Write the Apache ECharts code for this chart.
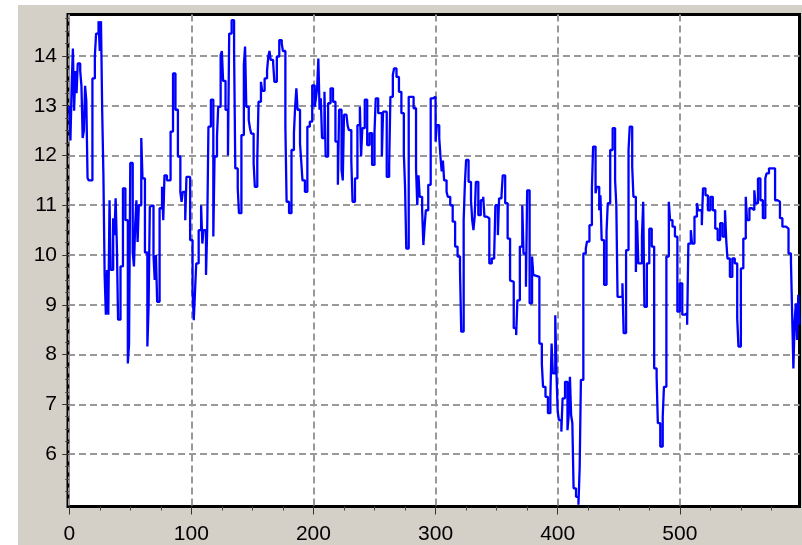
<!DOCTYPE html>
<html>
<head>
<meta charset="utf-8">
<style>
    html, body { margin: 0; padding: 0; background: #fff; }
    #main { position: absolute; left: 18px; top: 5px; width: 784px; height: 540px; }
</style>
</head>
<body>
<div id="main"></div>
<script src="https://cdn.jsdelivr.net/npm/echarts@6.0.0/dist/echarts.min.js"></script>
<script>
// sample positions (x) and values (y), drawn as a step line
var xs = [0, 1, 2, 3, 4, 5, 6, 7, 9, 10, 11, 12, 13, 14, 15, 16, 19, 21, 22, 24, 25, 26, 27, 28, 29, 30, 31, 32, 33, 34, 36, 37, 38, 39, 40, 42, 44, 46, 48, 49, 50, 52, 53, 54, 55, 56, 57, 59, 60, 62, 64, 65, 66, 67, 69, 70, 71, 72, 74, 76, 77, 78, 80, 83, 85, 87, 89, 91, 92, 93, 95, 96, 99,
    101, 102, 103, 104, 106, 108, 109, 110, 112, 113, 114, 116, 118, 119, 121, 122, 124, 125, 126, 128, 130, 131, 133, 135, 136, 138, 139, 141, 143, 144, 145, 147, 148, 149, 151, 152, 154, 155, 157, 158, 160, 162, 163, 164, 165, 167, 168, 170, 172, 174, 175, 177, 178, 180, 182, 184, 185, 186, 187, 189, 190, 191, 193, 195, 197, 199,
    201, 202, 203, 204, 205, 206, 207, 209, 210, 212, 214, 216, 218, 220, 221, 223, 224, 225, 227, 228, 229, 231, 232, 234, 236, 238, 239, 240, 242, 244, 246, 248, 250, 251, 253, 256, 257, 260, 262, 263, 265, 266, 268, 270, 272, 274, 275, 276, 278, 282, 284, 285, 286, 287, 289, 290, 291, 292, 294, 296, 298,
    300, 301, 303, 304, 305, 306, 307, 309, 310, 312, 314, 316, 318, 320, 321, 323, 324, 325, 327, 329, 330, 331, 332, 333, 335, 337, 339, 340, 342, 344, 346, 348, 349, 351, 352, 354, 355, 357, 359, 361, 362, 364, 366, 367, 369, 371, 372, 374, 375, 377, 379, 380, 381, 385, 387, 388, 390, 392, 394, 395, 396, 398, 399,
    400, 401, 403, 404, 406, 408, 409, 410, 411, 412, 413, 415, 417, 418, 419, 421, 423, 424, 426, 428, 429, 431, 432, 434, 435, 436, 438, 440, 441, 443, 445, 447, 448, 449, 453, 454, 456, 458, 459, 461, 462, 464, 465, 466, 469, 470, 471, 473, 475, 477, 479, 481, 482, 484, 486, 487, 489, 491, 492, 494, 496, 498,
    500, 502, 504, 506, 507, 509, 510, 512, 514, 515, 518, 519, 521, 523, 525, 527, 529, 531, 533, 535, 537, 538, 539, 541, 543, 545, 547, 548, 550, 552, 554, 555, 557, 559, 561, 562, 564, 566, 568, 570, 571, 573, 578, 580, 582, 584, 587, 589, 591, 592, 593, 594, 595, 596, 597, 598];
var ys = [13.0, 12.3, 13.4, 14.15, 12.9, 13.7, 13.25, 13.85, 13.7, 13.4, 12.35, 12.5, 13.4, 13.1, 11.55, 11.5, 13.55, 14.0, 14.45, 14.7, 14.1, 14.7, 12.9, 11.6, 9.6, 8.8, 9.7, 8.8, 11.1, 9.7, 10.74, 10.4, 11.14, 10.2, 8.7, 9.77, 11.34, 10.7, 7.82, 8.22, 11.85, 10.05, 9.77, 10.6, 11.1, 10.26, 11.0, 12.35, 11.54, 10.05, 8.16, 8.97, 10.97, 11.0, 10.0, 9.5, 10.0, 9.06, 10.94, 11.37, 10.7, 11.6, 11.5, 12.48, 13.65, 12.92, 11.98, 11.27, 11.07, 11.27, 10.7, 11.57, 10.3,
    9.26, 8.69, 9.26, 9.83, 10.5, 11.0, 10.23, 10.5, 9.6, 10.53, 12.58, 13.12, 10.37, 11.98, 12.38, 12.98, 14.02, 14.1, 13.5, 12.92, 12.0, 14.45, 14.72, 14.1, 11.74, 11.34, 10.84, 12.41, 13.82, 14.19, 12.98, 12.71, 12.55, 12.44, 11.85, 11.37, 11.91, 13.08, 13.48, 13.3, 13.55, 13.7, 13.99, 14.1, 13.92, 13.85, 13.48, 13.99, 14.32, 14.25, 14.1, 12.58, 11.07, 10.84, 12.11, 12.45, 12.98, 13.35, 12.92, 12.24, 11.88, 11.5, 11.27, 12.58, 12.68, 13.41,
    12.98, 13.15, 13.35, 13.95, 12.92, 13.15, 12.35, 13.28, 11.98, 13.05, 13.35, 13.08, 12.28, 11.41, 12.92, 11.71, 11.5, 12.82, 12.78, 12.6, 12.51, 11.88, 11.07, 11.54, 12.61, 12.98, 11.98, 12.55, 13.12, 12.21, 12.45, 11.81, 12.48, 13.15, 12.85, 11.98, 12.88, 11.57, 11.81, 13.18, 13.62, 13.75, 13.58, 13.28, 12.85, 12.04, 11.37, 10.13, 13.18, 12.95, 11.74, 11.0, 11.6, 11.17, 10.9, 10.2, 10.57, 10.9, 11.41, 13.15, 13.18,
    12.28, 12.61, 12.35, 11.98, 11.68, 11.9, 11.5, 11.27, 11.17, 11.0, 10.67, 10.17, 9.97, 9.7, 8.46, 10.7, 11.44, 11.91, 11.47, 11.1, 10.7, 10.5, 10.77, 11.47, 10.8, 11.1, 11.17, 10.77, 10.74, 9.83, 9.93, 10.03, 11.0, 10.4, 11.14, 11.2, 11.6, 11.04, 10.33, 9.49, 9.46, 8.53, 8.39, 9.09, 10.17, 11.0, 10.03, 9.36, 11.3, 9.03, 9.97, 9.6, 9.56, 8.22, 7.82, 7.35, 7.15, 6.82, 7.15, 8.22, 7.62, 8.79, 7.62,
    6.85, 6.68, 6.45, 7.12, 7.45, 6.48, 6.78, 7.55, 6.78, 6.62, 5.31, 5.14, 4.98, 5.74, 7.49, 10.03, 10.13, 10.27, 10.6, 11.34, 12.18, 11.24, 11.37, 10.9, 11.2, 10.3, 9.4, 10.47, 11.04, 12.11, 12.55, 11.5, 11.0, 9.16, 9.43, 8.43, 10.1, 12.11, 12.58, 11.78, 11.17, 9.66, 10.7, 9.83, 10.37, 11.07, 8.96, 9.83, 10.53, 10.17, 7.72, 7.55, 6.62, 6.15, 6.75, 7.35, 9.97, 11.07, 10.7, 10.57, 10.37, 8.86,
    9.43, 8.8, 8.83, 8.6, 10.23, 10.5, 10.23, 10.77, 11.04, 10.9, 10.6, 11.34, 11.2, 10.9, 11.17, 10.9, 10.53, 10.3, 10.64, 10.37, 10.9, 10.3, 9.93, 9.56, 9.93, 9.83, 8.73, 8.16, 9.73, 10.33, 11.17, 10.7, 10.94, 10.9, 11.3, 11.04, 11.54, 11.1, 10.74, 11.54, 11.64, 11.74, 11.1, 11.07, 10.74, 10.57, 10.53, 10.03, 9.87, 8.8, 7.72, 8.66, 9.03, 8.29, 9.2, 8.6];

// tick labels
var xTicks = [0, 100, 200, 300, 400, 500];
var yTicks = [6, 7, 8, 9, 10, 11, 12, 13, 14];

// small ticks between the labelled ones
var xMinor = [];
for (var i = 25; i < 600; i += 25) {
    if (i % 100 !== 0) xMinor.push(i);
}
var yMinor = [];
for (var k = 20; k < 60; k++) {
    if (k % 4 !== 0) yMinor.push(k / 4);
}

var xMin = -1, xMax = 598;
var yMin = 4.945, yMax = 14.836;

var points = xs.map(function (x, i) { return [x, ys[i]]; });

var labelFont = {
    color: '#000',
    fontSize: 21,
    fontFamily: '"Liberation Sans", Arial, sans-serif'
};

var myChart = echarts.init(document.getElementById('main'));
var option = {
    backgroundColor: '#d4d0c8',
    animation: false,
    grid: {
        left: 50,
        right: 2.5,
        top: 9.4,
        bottom: 38.5,
        show: true,
        backgroundColor: '#fff',
        borderColor: '#000',
        borderWidth: 3
    },
    xAxis: [{
        type: 'value',
        min: xMin,
        max: xMax,
        axisLine: { show: false },
        axisTick: { customValues: xTicks, length: 8, lineStyle: { color: '#333' } },
        axisLabel: Object.assign({ customValues: xTicks, margin: 17 }, labelFont),
        splitLine: { show: true, lineStyle: { color: '#999', width: 2, type: [7, 4] } }
    }, {
        type: 'value',
        position: 'bottom',
        min: xMin,
        max: xMax,
        axisLine: { show: false },
        axisTick: { customValues: xMinor, length: 4, lineStyle: { color: '#444' } },
        axisLabel: { show: false },
        splitLine: { show: false }
    }],
    yAxis: [{
        type: 'value',
        min: yMin,
        max: yMax,
        axisLine: { show: false },
        axisTick: { customValues: yTicks, length: 7, lineStyle: { color: '#333' } },
        axisLabel: Object.assign({ customValues: yTicks, margin: 11 }, labelFont),
        splitLine: { show: true, lineStyle: { color: '#999', width: 2, type: [7, 4] } }
    }, {
        type: 'value',
        position: 'left',
        min: yMin,
        max: yMax,
        axisLine: { show: false },
        axisTick: { customValues: yMinor, length: 4, lineStyle: { color: '#444' } },
        axisLabel: { show: false },
        splitLine: { show: false }
    }],
    series: [{
        type: 'line',
        step: 'end',
        xAxisIndex: 0,
        yAxisIndex: 0,
        showSymbol: false,
        lineStyle: { color: '#0000ff', width: 2.3 },
        data: points
    }]
};
myChart.setOption(option);
</script>
</body>
</html>
